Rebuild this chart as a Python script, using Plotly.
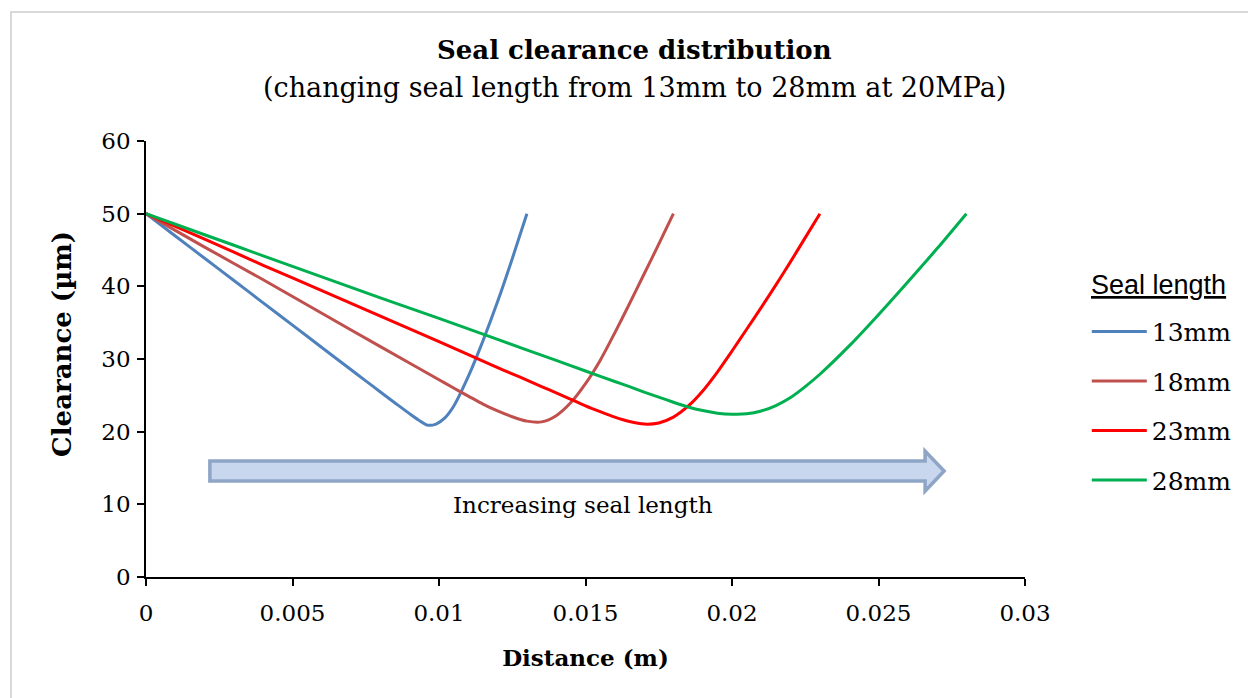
import plotly.graph_objects as go

# ---- data ----
series_names = ["13mm", "18mm", "23mm", "28mm"]
series_colors = ["#4f81bd", "#c0504d", "#ff0000", "#00b050"]

x_13 = [0, 0.001, 0.002, 0.003, 0.004, 0.005, 0.006, 0.007, 0.0075, 0.008, 0.0085, 0.009,
        0.0093, 0.0096, 0.0099, 0.0102, 0.0105, 0.011, 0.0115, 0.012, 0.0125, 0.013]
y_13 = [50, 46.93, 43.86, 40.80, 37.73, 34.66, 31.59, 28.52, 26.99, 25.46, 23.95, 22.45,
        21.6, 20.9, 21.05, 21.9, 23.5, 27.6, 32.5, 37.9, 43.8, 50.0]

x_18 = [0, 0.002, 0.004, 0.006, 0.008, 0.010, 0.0105, 0.011, 0.0115, 0.012, 0.0125, 0.013,
        0.0135, 0.014, 0.0145, 0.015, 0.0155, 0.016, 0.0165, 0.017, 0.0175, 0.018]
y_18 = [50, 45.4, 40.9, 36.3, 31.7, 27.15, 26.0, 24.9, 23.8, 22.85, 22.05, 21.45,
        21.35, 22.2, 24.0, 26.6, 29.8, 33.6, 37.6, 41.7, 45.8, 50.0]

x_23 = [0, 0.002, 0.004, 0.006, 0.008, 0.010, 0.012, 0.0125, 0.013, 0.0135, 0.014, 0.0145,
        0.015, 0.0155, 0.016, 0.0165, 0.017, 0.0175, 0.018, 0.0185, 0.019, 0.0195,
        0.020, 0.0205, 0.021, 0.0215, 0.022, 0.0225, 0.023]
y_23 = [50, 46.5, 42.9, 39.4, 35.9, 32.4, 28.8, 27.95, 27.1, 26.2, 25.35, 24.45,
        23.55, 22.75, 22.0, 21.4, 21.05, 21.2, 22.0, 23.5, 25.6, 28.2,
        31.1, 34.1, 37.1, 40.2, 43.4, 46.7, 50.0]

x_28 = [0, 0.002, 0.004, 0.006, 0.008, 0.010, 0.012, 0.014, 0.015, 0.016, 0.0165, 0.017,
        0.0175, 0.018, 0.0185, 0.019, 0.0195, 0.020, 0.0205, 0.021, 0.0215, 0.022,
        0.0225, 0.023, 0.024, 0.025, 0.026, 0.027, 0.028]
y_28 = [50, 47.1, 44.2, 41.3, 38.4, 35.6, 32.7, 29.8, 28.35, 26.9, 26.2, 25.45,
        24.75, 24.05, 23.4, 22.9, 22.55, 22.4, 22.45, 22.85, 23.6, 24.7,
        26.2, 27.9, 31.8, 36.1, 40.6, 45.2, 50.0]

x_data = [x_13, x_18, x_23, x_28]
y_data = [y_13, y_18, y_23, y_28]

x_tickvals = [0, 0.005, 0.01, 0.015, 0.02, 0.025, 0.03]
x_ticktext = ["0", "0.005", "0.01", "0.015", "0.02", "0.025", "0.03"]
y_tickvals = [0, 10, 20, 30, 40, 50, 60]

SERIF = "DejaVu Serif"
SANS = "Liberation Sans"

fig = go.Figure()
for i, (xs, ys) in enumerate(zip(x_data, y_data)):
    fig.add_trace(go.Scatter(
        x=xs, y=ys, mode="lines", name=series_names[i],
        line=dict(color=series_colors[i], width=3, shape="spline", smoothing=0.7),
        legendgroup=series_names[i],
    ))

# arrow (in data coordinates)
ax_l, ax_b, ax_t = 0.00218, 0.02659, 0.02724
ay_bt, ay_bb, ay_ht, ay_hb, ay_tip = 15.96, 13.21, 17.34, 11.83, 14.59
arrow_path = (f"M{ax_l},{ay_bt} L{ax_b},{ay_bt} L{ax_b},{ay_ht} L{ax_t},{ay_tip} "
              f"L{ax_b},{ay_hb} L{ax_b},{ay_bb} L{ax_l},{ay_bb} Z")

shapes = [
    dict(type="path", path=arrow_path, xref="x", yref="y",
         fillcolor="#c8d7ee", line=dict(color="#8fa5c6", width=3.5), layer="above"),
    dict(type="rect", xref="paper", yref="paper", x0=-0.1536, x1=2.0, y0=-1.0, y1=1.2959,
         line=dict(color="#d9d9d9", width=2), fillcolor="rgba(0,0,0,0)", layer="below"),
]

annotations = [
    dict(text="<b>Seal clearance distribution</b>", xref="paper", yref="paper",
         x=0.5552, y=1.2087, showarrow=False, xanchor="center", yanchor="middle",
         font=dict(family=SERIF, size=26, color="black")),
    dict(text="(changing seal length from 13mm to 28mm at 20MPa)", xref="paper", yref="paper",
         x=0.5552, y=1.1216, showarrow=False, xanchor="center", yanchor="middle",
         font=dict(family=SERIF, size=27, color="black")),
    dict(text="Increasing seal length", xref="x", yref="y", x=0.0149, y=9.9,
         showarrow=False, xanchor="center", yanchor="middle",
         font=dict(family=SERIF, size=23, color="black")),
    dict(text="<u>Seal length</u>", xref="paper", yref="paper", x=1.1524, y=0.6697,
         showarrow=False, xanchor="center", yanchor="middle",
         font=dict(family=SANS, size=27, color="black")),
    dict(text="<b>Clearance (µm)</b>", xref="paper", yref="paper", x=-0.0956, y=0.5344,
         showarrow=False, xanchor="center", yanchor="middle", textangle=-90,
         font=dict(family=SERIF, size=26, color="black")),
]

fig.update_layout(
    width=1248, height=698,
    margin=dict(l=146, r=223, t=141, b=121, autoexpand=False),
    paper_bgcolor="white", plot_bgcolor="white",
    showlegend=True,
    legend=dict(
        x=1.0703, y=0.615, xanchor="left", yanchor="top",
        font=dict(family=SERIF, size=25, color="black"),
        tracegroupgap=14, itemwidth=55, bgcolor="rgba(0,0,0,0)",
    ),
    shapes=shapes,
    annotations=annotations,
    xaxis=dict(
        range=[0, 0.03], tickvals=x_tickvals, ticktext=x_ticktext,
        showgrid=False, zeroline=False, showline=True, linecolor="black", linewidth=1.5,
        ticks="outside", ticklen=7, tickwidth=1.5, tickcolor="black",
        ticklabelstandoff=8,
        tickfont=dict(family=SERIF, size=23, color="black"),
        title=dict(text="<b>Distance (m)</b>", font=dict(family=SERIF, size=23, color="black"),
                   standoff=25),
    ),
    yaxis=dict(
        range=[0, 60], tickvals=y_tickvals,
        showgrid=False, zeroline=False, showline=True, linecolor="black", linewidth=1.5,
        ticks="outside", ticklen=7, tickwidth=1.5, tickcolor="black",
        ticklabelstandoff=2,
        tickfont=dict(family=SERIF, size=23, color="black"),
    ),
)

fig.write_html("out.html", config={"displayModeBar": False},
               post_script="document.body.style.margin='0';document.body.style.overflow='hidden';")
